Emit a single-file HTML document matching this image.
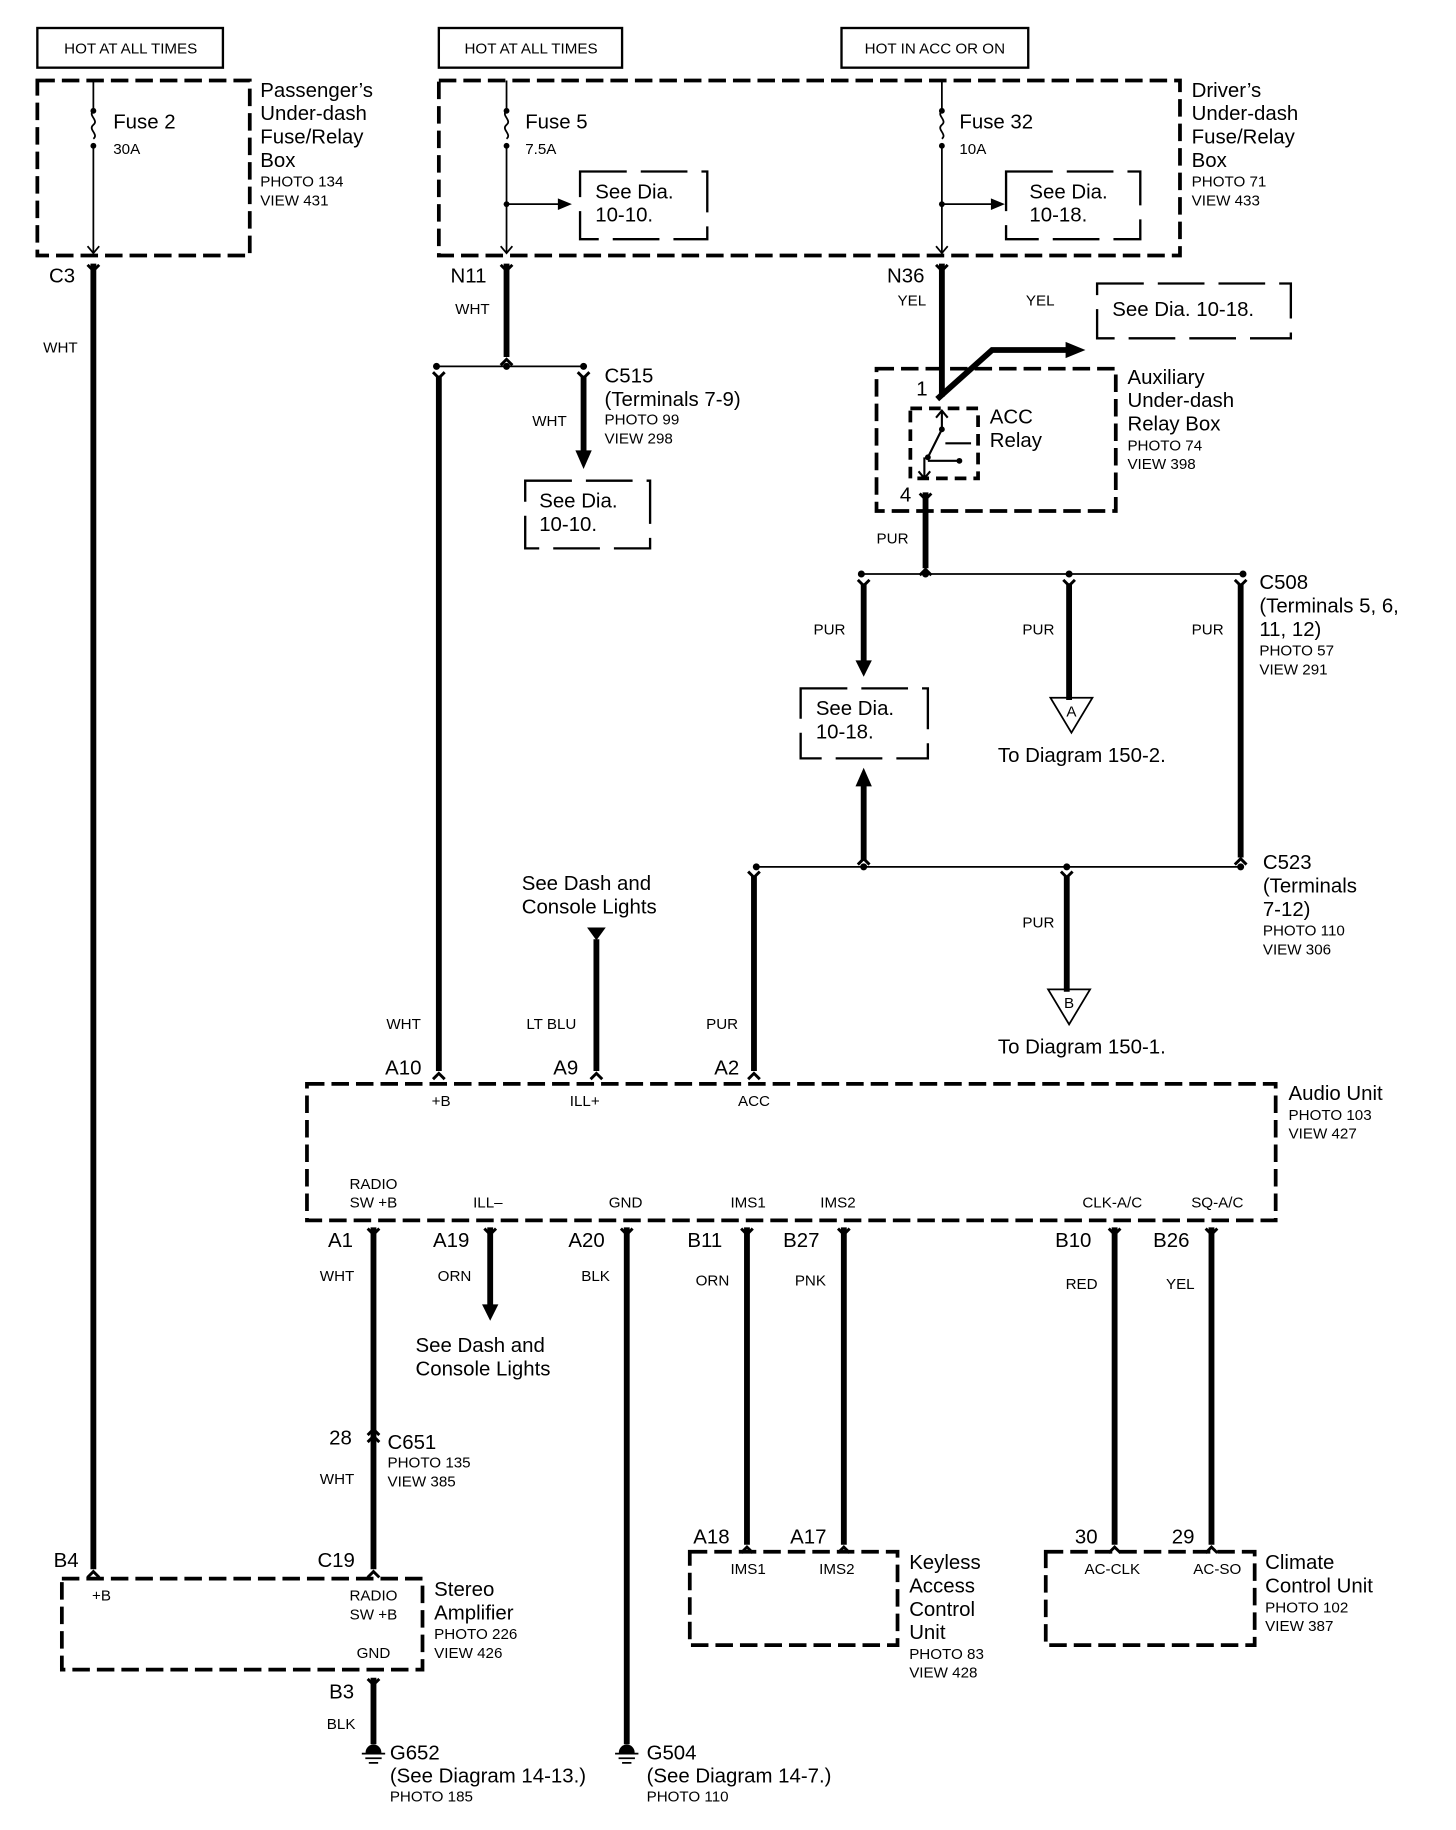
<!DOCTYPE html>
<html><head><meta charset="utf-8"><style>
html,body{margin:0;padding:0;background:#fff;}
svg{display:block;}
text{font-family:"Liberation Sans",Arial,sans-serif;fill:#000;}
.b{font-size:17.5px;}
.s{font-size:13px;}
.w{font-size:13px;}
.c{font-size:17px;}
</style></head><body>
<svg width="1456" height="1830" viewBox="0 0 1247.5 1568.5" preserveAspectRatio="none" xmlns="http://www.w3.org/2000/svg">
<defs>
<g id="fy"><path d="M-5,-5 L0,0 L5,-5" fill="none" stroke="#000" stroke-width="2.5"/></g>
<g id="fa"><path d="M-5,5 L0,0 L5,5" fill="none" stroke="#000" stroke-width="2.5"/></g>
</defs>
<g fill="none" stroke="#000">
<rect x="32" y="24" width="159" height="34" stroke-width="2"/>
<rect x="376" y="24" width="157" height="34" stroke-width="2"/>
<rect x="721" y="24" width="160" height="34" stroke-width="2"/>
<g stroke-width="3.2" stroke-dasharray="15,6">
<rect x="32" y="69" width="182" height="150"/>
<rect x="376" y="69" width="635" height="150"/>
<rect x="751" y="316" width="205" height="122"/>
<rect x="780" y="350" width="58" height="60" stroke-dasharray="10,6"/>
<rect x="263" y="929" width="830" height="117"/>
<rect x="53" y="1353" width="309" height="78"/>
<rect x="591" y="1330" width="178" height="80"/>
<rect x="896" y="1330" width="179" height="80"/>
</g>
<g stroke-width="2" stroke-dasharray="40,12">
<rect x="497" y="147" width="109" height="58"/>
<rect x="862" y="147" width="115" height="58"/>
<rect x="450" y="412" width="107" height="58"/>
<rect x="940" y="243" width="166" height="47"/>
<rect x="686" y="590" width="109" height="60"/>
</g>
<g stroke-width="1.5">
<path d="M80,69 V95 M80,125 V217"/>
<path d="M434,69 V95 M434,125 V217 M434,175 H485"/>
<path d="M807,69 V95 M807,125 V217 M807,175 H850"/>
<path d="M374,314 H500"/>
<path d="M738,492 H1065"/>
<path d="M648,743 H1063"/>
<path d="M80,95 c-5,4 5,8 0,12 c-5,4 5,8 0,12 M434,95 c-5,4 5,8 0,12 c-5,4 5,8 0,12 M807,95 c-5,4 5,8 0,12 c-5,4 5,8 0,12"/>
<path d="M75,211 L80,217 L85,211 M429,211 L434,217 L439,211 M802,211 L807,217 L812,211"/>
<path d="M807,352 V368 M802,358 L807,352 L812,358 M807,368 L795,392 M810,380 H832 M795,395 H822 M792,392 V410 M787,404 L792,410 L797,404" stroke-width="1.8"/>
<path d="M900,598 H936 L918,628 Z M898,848 H934 L916,878 Z"/>
</g>
<g stroke-width="5">
<path d="M80,226 V1345"/>
<path d="M434,226 V306"/>
<path d="M376,322 V918"/>
<path d="M500,322 V388"/>
<path d="M807,226 V340"/>
<path d="M803,342 L850,300 H915"/>
<path d="M793,422 V487"/>
<path d="M740,500 V568"/>
<path d="M916,500 V600"/>
<path d="M1063,500 V735"/>
<path d="M740,738 V672"/>
<path d="M646,751 V918"/>
<path d="M914,751 V850"/>
<path d="M511,805 V918"/>
<path d="M320,1052 V1345"/>
<path d="M420,1052 V1120"/>
<path d="M537,1052 V1495"/>
<path d="M640,1052 V1324"/>
<path d="M723,1052 V1324"/>
<path d="M955,1052 V1324"/>
<path d="M1038,1052 V1324"/>
<path d="M320,1438 V1495"/>
</g>
</g>
<g fill="#000">
<polygon points="478,170 490,175 478,180"/>
<polygon points="849,170 861,175 849,180"/>
<polygon points="913,293 930,300 913,307"/>
<polygon points="493,386 507,386 500,402"/>
<polygon points="733,566 747,566 740,580"/>
<polygon points="733,674 747,674 740,658"/>
<polygon points="503,795 519,795 511,806"/>
<polygon points="413,1118 427,1118 420,1132"/>
<circle cx="80" cy="95" r="2.5"/><circle cx="80" cy="125" r="2.5"/>
<circle cx="434" cy="95" r="2.5"/><circle cx="434" cy="125" r="2.5"/><circle cx="434" cy="175" r="2.5"/>
<circle cx="807" cy="95" r="2.5"/><circle cx="807" cy="125" r="2.5"/><circle cx="807" cy="175" r="2.5"/>
<circle cx="374" cy="314" r="3"/><circle cx="434" cy="314" r="3"/><circle cx="500" cy="314" r="3"/>
<circle cx="738" cy="492" r="3"/><circle cx="793" cy="492" r="3"/><circle cx="916" cy="492" r="3"/><circle cx="1065" cy="492" r="3"/>
<circle cx="648" cy="743" r="3"/><circle cx="740" cy="743" r="3"/><circle cx="914" cy="743" r="3"/><circle cx="1063" cy="743" r="3"/>
<circle cx="795" cy="392" r="2.5"/><circle cx="807" cy="368" r="2.5"/><circle cx="822" cy="395" r="2.5"/>
</g>
<use href="#fy" x="80" y="232"/><use href="#fy" x="434" y="232"/><use href="#fy" x="807" y="232"/>
<use href="#fa" x="434" y="308"/><use href="#fy" x="376" y="324"/><use href="#fy" x="500" y="324"/>
<use href="#fy" x="793" y="428"/><use href="#fa" x="793" y="488"/>
<use href="#fy" x="740" y="502"/><use href="#fy" x="916" y="502"/><use href="#fy" x="1063" y="502"/>
<use href="#fa" x="740" y="736"/><use href="#fa" x="1063" y="736"/><use href="#fy" x="646" y="752"/><use href="#fy" x="914" y="752"/>
<use href="#fa" x="376" y="920"/><use href="#fa" x="511" y="920"/><use href="#fa" x="646" y="920"/>
<use href="#fy" x="320" y="1058"/><use href="#fy" x="420" y="1058"/><use href="#fy" x="537" y="1058"/><use href="#fy" x="640" y="1058"/><use href="#fy" x="723" y="1058"/><use href="#fy" x="955" y="1058"/><use href="#fy" x="1038" y="1058"/>
<use href="#fa" x="320" y="1225"/><use href="#fa" x="320" y="1231"/>
<use href="#fa" x="80" y="1347"/><use href="#fa" x="320" y="1347"/>
<use href="#fy" x="320" y="1444"/>
<use href="#fa" x="640" y="1326"/><use href="#fa" x="723" y="1326"/><use href="#fa" x="955" y="1326"/><use href="#fa" x="1038" y="1326"/>
<g fill="#000" stroke="#000" stroke-width="1.5">
<path d="M314,1502 a6,6 0 0 1 12,0 Z"/><path d="M310,1503 H330 M313,1507 H327 M316,1511 H324" fill="none"/>
<path d="M531,1502 a6,6 0 0 1 12,0 Z"/><path d="M527,1503 H547 M530,1507 H544 M533,1511 H541" fill="none"/>
</g>
<g class="s" text-anchor="middle">
<text x="112" y="46">HOT AT ALL TIMES</text>
<text x="455" y="46">HOT AT ALL TIMES</text>
<text x="801" y="46">HOT IN ACC OR ON</text>
<text x="918" y="614">A</text><text x="916" y="864">B</text>
</g>
<g class="b">
<text x="97" y="110">Fuse 2</text><text x="450" y="110">Fuse 5</text><text x="822" y="110">Fuse 32</text>
<text x="223" y="83">Passenger’s</text><text x="223" y="103">Under-dash</text><text x="223" y="123">Fuse/Relay</text><text x="223" y="143">Box</text>
<text x="1021" y="83">Driver’s</text><text x="1021" y="103">Under-dash</text><text x="1021" y="123">Fuse/Relay</text><text x="1021" y="143">Box</text>
<text x="510" y="170">See Dia.</text><text x="510" y="190">10-10.</text>
<text x="882" y="170">See Dia.</text><text x="882" y="190">10-18.</text>
<text x="462" y="435">See Dia.</text><text x="462" y="455">10-10.</text>
<text x="953" y="271">See Dia. 10-18.</text>
<text x="699" y="613">See Dia.</text><text x="699" y="633">10-18.</text>
<text x="42" y="242">C3</text><text x="386" y="242">N11</text><text x="760" y="242">N36</text>
<text x="518" y="328">C515</text><text x="518" y="348">(Terminals 7-9)</text>
<text x="785" y="339">1</text><text x="771" y="430">4</text>
<text x="848" y="363">ACC</text><text x="848" y="383">Relay</text>
<text x="966" y="329">Auxiliary</text><text x="966" y="349">Under-dash</text><text x="966" y="369">Relay Box</text>
<text x="1079" y="505">C508</text><text x="1079" y="525">(Terminals 5, 6,</text><text x="1079" y="545">11, 12)</text>
<text x="855" y="653">To Diagram 150-2.</text>
<text x="1082" y="745">C523</text><text x="1082" y="765">(Terminals</text><text x="1082" y="785">7-12)</text>
<text x="855" y="903">To Diagram 150-1.</text>
<text x="447" y="763">See Dash and</text><text x="447" y="783">Console Lights</text>
<text x="330" y="921">A10</text><text x="474" y="921">A9</text><text x="612" y="921">A2</text>
<text x="1104" y="943">Audio Unit</text>
<text x="281" y="1069">A1</text><text x="371" y="1069">A19</text><text x="487" y="1069">A20</text><text x="589" y="1069">B11</text><text x="671" y="1069">B27</text><text x="904" y="1069">B10</text><text x="988" y="1069">B26</text>
<text x="356" y="1159">See Dash and</text><text x="356" y="1179">Console Lights</text>
<text x="282" y="1238">28</text><text x="332" y="1242">C651</text>
<text x="46" y="1343">B4</text><text x="272" y="1343">C19</text>
<text x="372" y="1368">Stereo</text><text x="372" y="1388">Amplifier</text>
<text x="282" y="1456">B3</text>
<text x="334" y="1508">G652</text><text x="334" y="1528">(See Diagram 14-13.)</text>
<text x="554" y="1508">G504</text><text x="554" y="1528">(See Diagram 14-7.)</text>
<text x="594" y="1323">A18</text><text x="677" y="1323">A17</text><text x="921" y="1323">30</text><text x="1004" y="1323">29</text>
<text x="779" y="1345">Keyless</text><text x="779" y="1365">Access</text><text x="779" y="1385">Control</text><text x="779" y="1405">Unit</text>
<text x="1084" y="1345">Climate</text><text x="1084" y="1365">Control Unit</text>
</g>
<g class="s">
<text x="97" y="132">30A</text><text x="450" y="132">7.5A</text><text x="822" y="132">10A</text>
<text x="223" y="160">PHOTO 134</text><text x="223" y="176">VIEW 431</text>
<text x="1021" y="160">PHOTO 71</text><text x="1021" y="176">VIEW 433</text>
<text x="37" y="302">WHT</text><text x="390" y="269">WHT</text><text x="769" y="262">YEL</text><text x="879" y="262">YEL</text>
<text x="456" y="365">WHT</text><text x="518" y="364">PHOTO 99</text><text x="518" y="380">VIEW 298</text>
<text x="966" y="386">PHOTO 74</text><text x="966" y="402">VIEW 398</text>
<text x="751" y="466">PUR</text>
<text x="697" y="544">PUR</text><text x="876" y="544">PUR</text><text x="1021" y="544">PUR</text>
<text x="1079" y="562">PHOTO 57</text><text x="1079" y="578">VIEW 291</text>
<text x="876" y="795">PUR</text>
<text x="1082" y="802">PHOTO 110</text><text x="1082" y="818">VIEW 306</text>
<text x="331" y="882">WHT</text><text x="451" y="882">LT BLU</text><text x="605" y="882">PUR</text>
<text x="1104" y="960">PHOTO 103</text><text x="1104" y="976">VIEW 427</text>
<text x="274" y="1098">WHT</text><text x="375" y="1098">ORN</text><text x="498" y="1098">BLK</text><text x="596" y="1102">ORN</text><text x="681" y="1102">PNK</text><text x="913" y="1105">RED</text><text x="999" y="1105">YEL</text>
<text x="332" y="1258">PHOTO 135</text><text x="332" y="1274">VIEW 385</text><text x="274" y="1272">WHT</text>
<text x="372" y="1405">PHOTO 226</text><text x="372" y="1421">VIEW 426</text>
<text x="280" y="1482">BLK</text>
<text x="334" y="1544">PHOTO 185</text><text x="554" y="1544">PHOTO 110</text>
<text x="779" y="1422">PHOTO 83</text><text x="779" y="1438">VIEW 428</text>
<text x="1084" y="1382">PHOTO 102</text><text x="1084" y="1398">VIEW 387</text>
</g>
<g class="s" text-anchor="middle">
<text x="378" y="948">+B</text><text x="501" y="948">ILL+</text><text x="646" y="948">ACC</text>
<text x="320" y="1019">RADIO</text><text x="320" y="1035">SW +B</text><text x="418" y="1035">ILL–</text><text x="536" y="1035">GND</text><text x="641" y="1035">IMS1</text><text x="718" y="1035">IMS2</text><text x="953" y="1035">CLK-A/C</text><text x="1043" y="1035">SQ-A/C</text>
<text x="87" y="1372">+B</text><text x="320" y="1372">RADIO</text><text x="320" y="1388">SW +B</text><text x="320" y="1421">GND</text>
<text x="641" y="1349">IMS1</text><text x="717" y="1349">IMS2</text><text x="953" y="1349">AC-CLK</text><text x="1043" y="1349">AC-SO</text>
</g>
</svg>
</body></html>
